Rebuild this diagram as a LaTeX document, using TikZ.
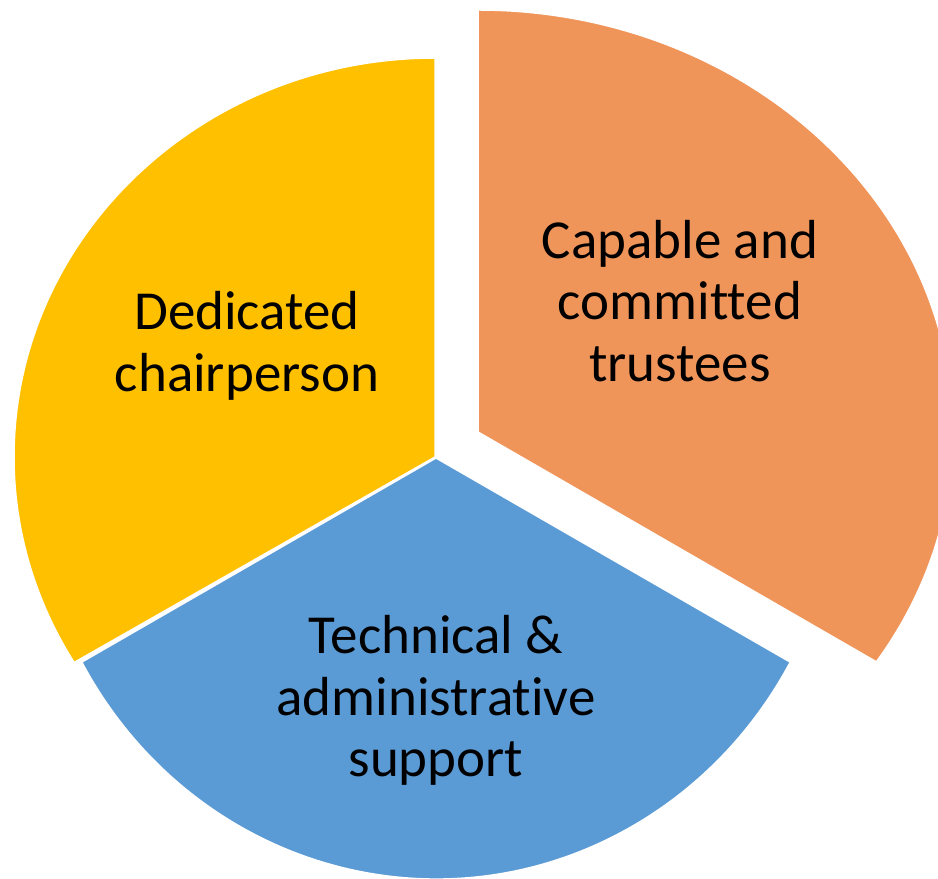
\documentclass[tikz,border=0pt]{standalone}
\usepackage{fontspec}
\setmainfont{Carlito}[Ligatures={NoCommon}]
\definecolor{sliceyellow}{HTML}{FFC000}
\definecolor{sliceorange}{HTML}{F0955A}
\definecolor{sliceblue}{HTML}{5B9BD5}
\begin{document}
\begin{tikzpicture}[x=1pt, y=1pt,
            slice/.style={draw=white, line width=1.5pt, line join=round},
            yellow slice/.style={slice, fill=sliceyellow},
            blue slice/.style={slice, fill=sliceblue},
            orange slice/.style={slice, fill=sliceorange},
            every node/.style={align=center, text=black, font=\fontsize{55}{61.5}\selectfont}
    ]
        \useasboundingbox (0,0) rectangle (938,879);
        \clip (0,0) rectangle (938,879);

        % Slice centres
        \coordinate (c_yel) at (435,422);
        \coordinate (c_blu) at (436,421);
        \coordinate (c_ora) at (478,447);

        % Slices
        \draw[yellow slice] (c_yel) -- ++(0,399) arc[start angle=90, end angle=211, x radius=421, y radius=399] -- cycle;
        \draw[blue slice] (c_blu) -- ++(-354.2,-204.1) arc[start angle=209, end angle=331, x radius=405, y radius=421] -- cycle;
        \draw[orange slice] (c_ora) -- ++(0,422) arc[start angle=90, end angle=-33, x radius=475, y radius=422] -- cycle;

        % Labels
        \node (lbl_chair) at (247,533) {Dedicated\\chairperson};
        \node (lbl_trustees) at (680,578) {Capable and\\committed\\trustees};
        \node (lbl_support) at (436,178.5) {Technical \&\\administrative\\support};

    \end{tikzpicture}
\end{document}
